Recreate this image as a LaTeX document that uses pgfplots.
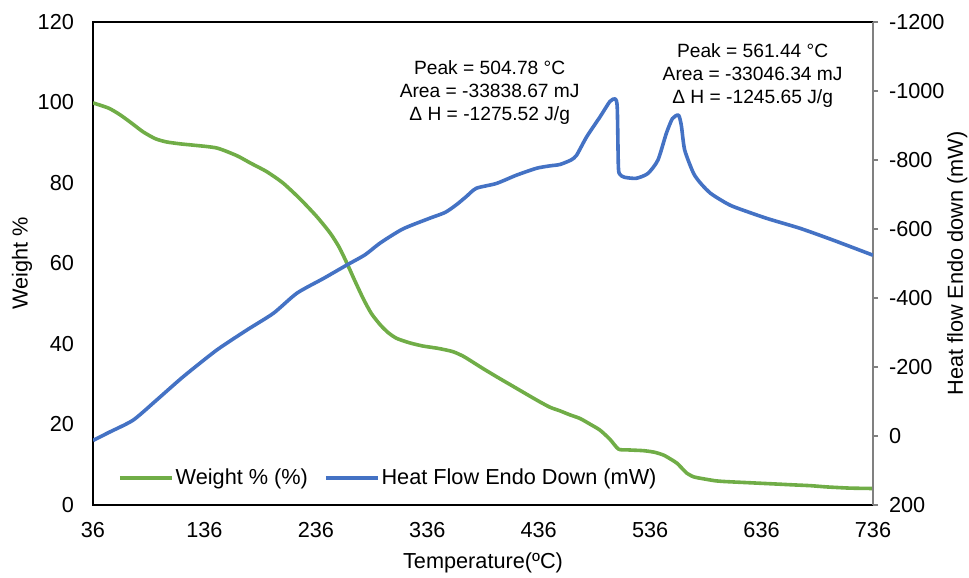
\documentclass[border=0pt]{standalone}
\usepackage{fontspec}
\setmainfont{Liberation Sans}
\usepackage{pgfplots}
\pgfplotsset{compat=1.18}
\usetikzlibrary{calc}

\definecolor{wgreen}{HTML}{70AD47}
\definecolor{hblue}{HTML}{4472C4}
\definecolor{axgray}{HTML}{808080}

% TGA weight loss (%)
\pgfplotstableread{
T W
36 99.9
50 98.6
60 97
70 95
81 92.7
92 91
102 90.2
115 89.7
126 89.4
147 88.7
165 86.8
177 85
192 82.8
206.5 80
222 76
237 71.6
249 67.5
257 64
264 60
271 55.7
279 51
286 47.5
294 44.7
301 42.8
308.5 41.4
320 40.3
332 39.5
346 38.9
359 38.1
368 37
374 36
386 33.9
398 31.9
416 29
434 26.1
446 24.3
455 23.4
464 22.4
473 21.5
482 20.1
491 18.6
500 16.3
507.5 13.9
515 13.7
530 13.5
540 13.1
548 12.4
555 11.3
560 10.4
565 9
569 7.9
575 7
584 6.5
595 6
605 5.8
620 5.6
635 5.4
650 5.2
664.5 5
680 4.8
694 4.5
715 4.2
736 4.1
}\weighttable

% DSC heat flow, endo down (mW)
\pgfplotstableread{
T H
36 13
50 -10
72 -46
93 -104
117 -172
147 -249
174 -307
198 -356
219 -414
243 -457
264 -496
280 -525
294 -560
314 -600
338 -631
352 -648
362 -670
371 -694
380 -718
398 -732
416 -756
434 -776
446 -783
455 -787
465 -800
470 -814
479 -867
491 -925
500 -970
504.78 -977
506.5 -950
507.5 -780
509 -758
513 -750
523.5 -747
534 -761
543 -800
550.5 -877
556 -920
561.44 -930
564 -900
567 -829
575 -761
582 -730
590 -704
600 -683
610.6 -665
640.5 -631
670.5 -602
700 -568
736 -524
}\heattable

\begin{document}
\begin{tikzpicture}[font=\fontsize{10.85}{13}\selectfont]
\pgfplotsset{
  twin/.style={
    scale only axis,
    width=390pt, height=241.5pt,
    xmin=36, xmax=736,
    /pgf/number format/assume math mode=true,
    /pgf/number format/1000 sep={},
    tick label style={font=\fontsize{10.85}{13}\selectfont},
    label style={font=\fontsize{10.85}{13}\selectfont},
  }
}
\begin{axis}[
  twin,
  name=ax,
  ymin=0, ymax=120,
  xtick={36,136,...,736},
  ytick={0,20,...,120},
  major tick length=0pt,
  axis line style={black, line width=0.6pt},
  xticklabel style={yshift=-5pt},
  yticklabel style={xshift=-6pt},
  xlabel={Temperature(ºC)},
  ylabel={Weight \%},
  every axis x label/.style={at={(axis description cs:0.5,-0.12)}, anchor=center},
  every axis y label/.style={at={(axis description cs:-0.091,0.5)}, anchor=center, rotate=90},
  legend columns=2,
  legend style={draw=none, fill=none, at={(0.024,0.056)}, anchor=west,
    font=\fontsize{10.85}{13}\selectfont,
    nodes={inner xsep=1pt},
    /tikz/every even column/.append style={column sep=7pt}},
  legend image code/.code={\draw[#1] (0pt,0pt) -- (26pt,0pt);},
]
\addplot[wgreen, line width=1.8pt, line join=round, smooth, tension=0.4] table[x=T, y=W] {\weighttable};
\addlegendentry{Weight \% (\%)}
\addlegendimage{hblue, line width=1.8pt}
\addlegendentry{Heat Flow Endo Down (mW)}

\node[align=center, font=\fontsize{9.6}{11.5}\selectfont] at (axis cs:392,102.4)
  {Peak = 504.78 °C\\Area = -33838.67 mJ\\Δ H = -1275.52 J/g};
\node[align=center, font=\fontsize{9.6}{11.5}\selectfont] at (axis cs:628,106.8)
  {Peak = 561.44 °C\\Area = -33046.34 mJ\\Δ H = -1245.65 J/g};
\end{axis}

\begin{axis}[
  twin,
  ymin=-1200, ymax=200,
  y dir=reverse,
  axis y line*=right,
  axis x line=none,
  xtick=\empty,
  ytick={-1200,-1000,...,200},
  tick align=outside,
  major tick length=2.5pt,
  y axis line style={axgray, line width=0.6pt},
  ytick style={axgray, line width=0.6pt},
  yticklabel style={xshift=2pt, anchor=west},
  ylabel={Heat flow Endo down (mW)},
  every axis y label/.style={at={(axis description cs:1.108,0.5)}, anchor=center, rotate=90},
]
\addplot[hblue, line width=1.8pt, line join=round, smooth, tension=0.4] table[x=T, y=H] {\heattable};
\end{axis}

\pgfresetboundingbox
\path[use as bounding box] ($(ax.south west)+(-46.5pt,-36pt)$) rectangle ($(ax.north east)+(48pt,11pt)$);
\end{tikzpicture}
\end{document}
